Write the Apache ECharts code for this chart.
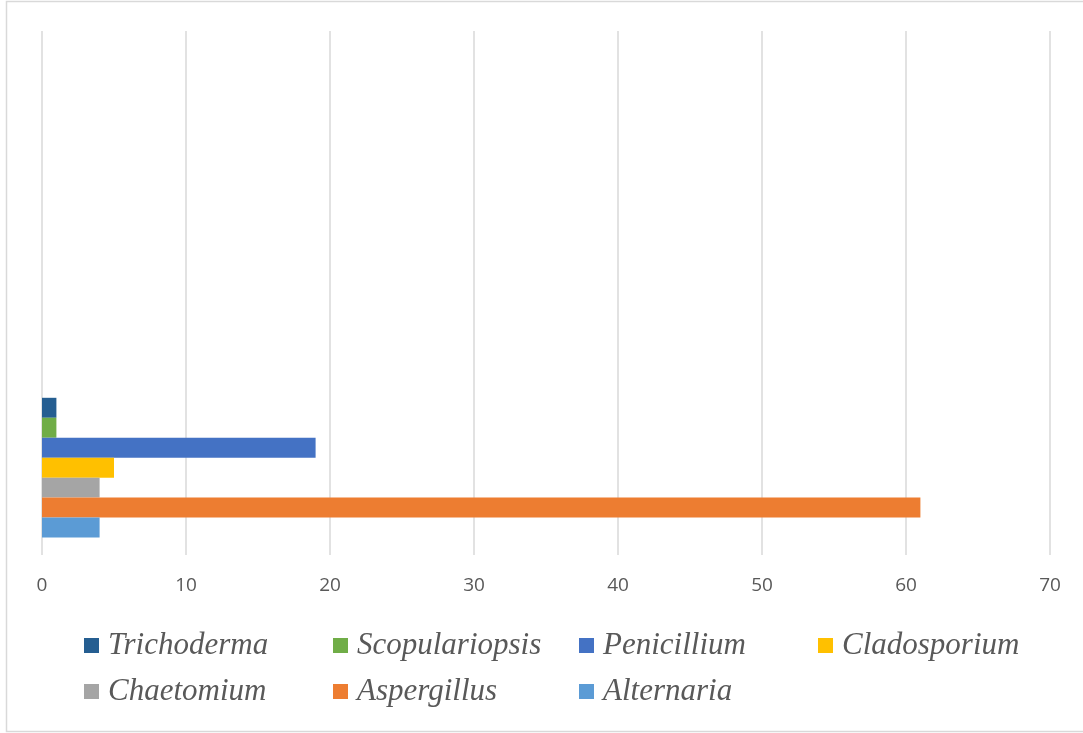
<!DOCTYPE html>
<html>
<head>
<meta charset="utf-8">
<script src="https://cdn.jsdelivr.net/npm/echarts@6/dist/echarts.min.js"></script>
<style>
  html, body { margin: 0; padding: 0; background: #fff; }
  #chart { width: 1083px; height: 733px; }
</style>
</head>
<body>
<div id="chart"></div>
<script>
// Genus counts (single group; two empty category slots keep the Excel-style spacing)
const categories = ['', '', ''];
// Series listed top bar first
const genera = ['Trichoderma', 'Scopulariopsis', 'Penicillium', 'Cladosporium', 'Chaetomium', 'Aspergillus', 'Alternaria'];
const counts = [1, 1, 19, 5, 4, 61, 4];
const colors = ['#255E91', '#70AD47', '#4472C4', '#FFC000', '#A5A5A5', '#ED7D31', '#5B9BD5'];
const xTicks = { min: 0, max: 70, interval: 10 };

// Legend columns, read top-to-bottom per column
const legendColumns = [
  ['Trichoderma', 'Chaetomium'],
  ['Scopulariopsis', 'Aspergillus'],
  ['Penicillium', 'Alternaria'],
  ['Cladosporium']
];
const legendLeft = [84, 333, 579, 818];

const chart = echarts.init(document.getElementById('chart'), null, { renderer: 'canvas' });

const series = genera.map((name, i) => ({
  name: name,
  type: 'bar',
  data: [counts[i], null, null],
  itemStyle: { color: colors[i] },
  barGap: '0%',
  barCategoryGap: '20%'
}));

const legends = legendColumns.map((col, i) => ({
  data: col,
  orient: 'vertical',
  left: legendLeft[i],
  top: 630,
  padding: 0,
  itemWidth: 15,
  itemHeight: 15,
  itemGap: 15,
  icon: 'rect',
  selectedMode: false,
  textStyle: {
    fontFamily: '"Liberation Serif", "Times New Roman", serif',
    fontStyle: 'italic',
    fontSize: 31,
    lineHeight: 30,
    color: '#595959',
    padding: [0, 0, 0, 4]
  }
}));

chart.setOption({
  animation: false,
  backgroundColor: '#ffffff',
  grid: { left: 42, right: 33, top: 31, bottom: 178, containLabel: false },
  xAxis: {
    type: 'value',
    min: xTicks.min,
    max: xTicks.max,
    interval: xTicks.interval,
    axisLine: { show: false },
    axisTick: { show: false },
    axisLabel: {
      color: '#595959',
      fontFamily: '"Open Sans", "Liberation Sans", sans-serif',
      fontSize: 19,
      margin: 21
    },
    splitLine: { show: true, lineStyle: { color: '#D9D9D9', width: 1.5 } }
  },
  yAxis: {
    type: 'category',
    data: categories,
    axisLine: { show: false },
    axisTick: { show: false },
    axisLabel: { show: false },
    splitLine: { show: false }
  },
  legend: legends,
  series: series,
  graphic: [{
    type: 'rect',
    shape: { x: 6.5, y: 1.5, width: 1090, height: 730 },
    style: { fill: null, stroke: '#D9D9D9', lineWidth: 1.5 },
    silent: true
  }]
});
</script>
</body>
</html>
